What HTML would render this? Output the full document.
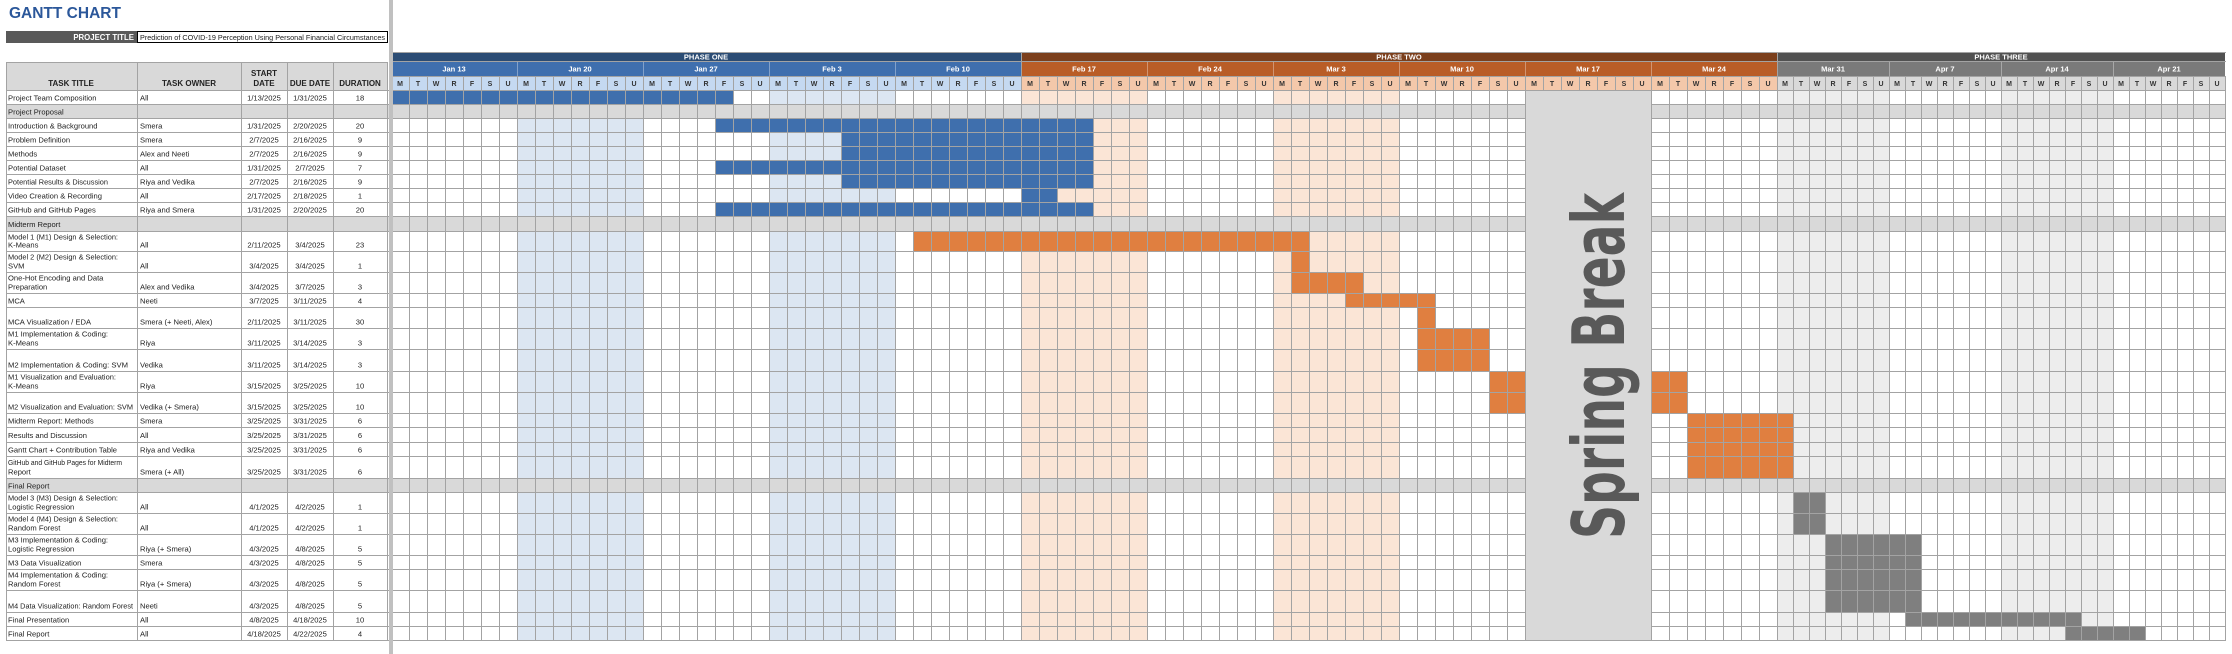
<!DOCTYPE html>
<html><head><meta charset="utf-8"><style>
html,body{margin:0;padding:0;background:#fff;width:2232px;height:654px;overflow:hidden}
svg{display:block}
text{font-family:"Liberation Sans",sans-serif}
.t{font-size:7.6px;fill:#222}
.c{font-size:7.6px;fill:#222;text-anchor:middle}
.h{font-size:8px;font-weight:bold;fill:#222;text-anchor:middle}
.w{font-size:7.5px;font-weight:bold;fill:#fff;text-anchor:middle}
.d{font-size:7px;font-weight:bold;fill:#333;text-anchor:middle}
</style></head><body>
<svg width="2232" height="654" viewBox="0 0 2232 654" xmlns="http://www.w3.org/2000/svg">
<defs>
<pattern id="g18" x="391" y="0" width="18" height="654" patternUnits="userSpaceOnUse"><rect x="0" y="0" width="1" height="654" fill="#a3a3a3"/></pattern>
<pattern id="g16" x="1777" y="0" width="16" height="654" patternUnits="userSpaceOnUse"><rect x="0" y="0" width="1" height="654" fill="#a3a3a3"/></pattern>
</defs>

<!-- title -->
<text x="9" y="18" style="font-size:15.5px;font-weight:bold;fill:#2b579a">GANTT CHART</text>
<rect x="6" y="31" width="131" height="12" fill="#595959"/>
<text x="134" y="40" style="font-size:7.8px;font-weight:bold;fill:#fff;text-anchor:end">PROJECT TITLE</text>
<rect x="137.5" y="31.5" width="250" height="11" fill="#fff" stroke="#000" stroke-width="1"/>
<text x="140" y="40" class="t" textLength="245" lengthAdjust="spacingAndGlyphs">Prediction of COVID-19 Perception Using Personal Financial Circumstances</text>

<!-- left table header -->
<rect x="6" y="62" width="382" height="28" fill="#d9d9d9"/>
<!-- section rows -->
<rect x="6" y="104" width="2219" height="14" fill="#d9d9d9"/>
<rect x="6" y="216" width="2219" height="15" fill="#d9d9d9"/>
<rect x="6" y="478" width="2219" height="14" fill="#d9d9d9"/>

<!-- chart week shading -->
<g>
<rect x="517" y="90" width="126" height="14" fill="#dce6f2"/><rect x="517" y="118" width="126" height="98" fill="#dce6f2"/><rect x="517" y="231" width="126" height="247" fill="#dce6f2"/><rect x="517" y="492" width="126" height="148" fill="#dce6f2"/>
<rect x="769" y="90" width="126" height="14" fill="#dce6f2"/><rect x="769" y="118" width="126" height="98" fill="#dce6f2"/><rect x="769" y="231" width="126" height="247" fill="#dce6f2"/><rect x="769" y="492" width="126" height="148" fill="#dce6f2"/>
<rect x="1021" y="90" width="126" height="14" fill="#fbe5d6"/><rect x="1021" y="118" width="126" height="98" fill="#fbe5d6"/><rect x="1021" y="231" width="126" height="247" fill="#fbe5d6"/><rect x="1021" y="492" width="126" height="148" fill="#fbe5d6"/>
<rect x="1273" y="90" width="126" height="14" fill="#fbe5d6"/><rect x="1273" y="118" width="126" height="98" fill="#fbe5d6"/><rect x="1273" y="231" width="126" height="247" fill="#fbe5d6"/><rect x="1273" y="492" width="126" height="148" fill="#fbe5d6"/>
<rect x="1777" y="90" width="112" height="14" fill="#ededed"/><rect x="1777" y="118" width="112" height="98" fill="#ededed"/><rect x="1777" y="231" width="112" height="247" fill="#ededed"/><rect x="1777" y="492" width="112" height="148" fill="#ededed"/>
<rect x="2001" y="90" width="112" height="14" fill="#ededed"/><rect x="2001" y="118" width="112" height="98" fill="#ededed"/><rect x="2001" y="231" width="112" height="247" fill="#ededed"/><rect x="2001" y="492" width="112" height="148" fill="#ededed"/>
</g>

<!-- bars blue -->
<g fill="#3f6fad">
<rect x="391" y="90" width="342" height="14"/>
<rect x="715" y="118" width="378" height="14"/>
<rect x="841" y="132" width="252" height="28"/>
<rect x="715" y="160" width="378" height="14"/>
<rect x="841" y="174" width="252" height="14"/>
<rect x="1021" y="188" width="36" height="14"/>
<rect x="715" y="202" width="378" height="14"/>
</g>
<!-- bars orange -->
<g fill="#e07f40">
<rect x="913" y="231" width="396" height="20"/>
<rect x="1291" y="251" width="18" height="21"/>
<rect x="1291" y="272" width="72" height="21"/>
<rect x="1345" y="293" width="90" height="14"/>
<rect x="1417" y="307" width="18" height="21"/>
<rect x="1417" y="328" width="72" height="43"/>
<rect x="1489" y="371" width="36" height="42"/>
<rect x="1651" y="371" width="36" height="42"/>
<rect x="1687" y="413" width="106" height="65"/>
</g>
<!-- bars gray -->
<g fill="#7f7f7f">
<rect x="1793" y="492" width="32" height="42"/>
<rect x="1825" y="534" width="96" height="78"/>
<rect x="1905" y="612" width="176" height="14"/>
<rect x="2065" y="626" width="80" height="14"/>
</g>

<!-- chart header -->
<rect x="391" y="52" width="630" height="9" fill="#2b4c74"/>
<rect x="1021" y="52" width="756" height="9" fill="#7b3f1c"/>
<rect x="1777" y="52" width="448" height="9" fill="#515151"/>
<rect x="391" y="61" width="630" height="15" fill="#3f6fae"/>
<rect x="1021" y="61" width="756" height="15" fill="#b95d27"/>
<rect x="1777" y="61" width="448" height="15" fill="#7a7a7a"/>
<rect x="391" y="76" width="630" height="14" fill="#c5d9f1"/>
<rect x="1021" y="76" width="756" height="14" fill="#f4c8aa"/>
<rect x="1777" y="76" width="448" height="14" fill="#d9d9d9"/>
<!-- week separators -->
<g fill="#ffffff" fill-opacity="0.35">
<rect x="517" y="61" width="1" height="15"/><rect x="643" y="61" width="1" height="15"/><rect x="769" y="61" width="1" height="15"/><rect x="895" y="61" width="1" height="15"/>
<rect x="1147" y="61" width="1" height="15"/><rect x="1273" y="61" width="1" height="15"/><rect x="1399" y="61" width="1" height="15"/><rect x="1525" y="61" width="1" height="15"/><rect x="1651" y="61" width="1" height="15"/>
<rect x="1889" y="61" width="1" height="15"/><rect x="2001" y="61" width="1" height="15"/><rect x="2113" y="61" width="1" height="15"/>
</g>

<!-- vertical gridlines -->
<rect x="391" y="76" width="1386" height="564" fill="url(#g18)"/>
<rect x="1777" y="76" width="449" height="564" fill="url(#g16)"/>
<rect x="1021" y="52" width="1" height="24" fill="#a3a3a3"/>
<rect x="1777" y="52" width="1" height="24" fill="#a3a3a3"/>

<!-- horizontal gridlines -->
<path fill="none" stroke="#a3a3a3" stroke-width="1" d="M391 52.5H2226M391 61.5H2226M391 76.5H2226M6 62.5H388M6 90.5H2226M6 104.5H2226M6 118.5H2226M6 132.5H2226M6 146.5H2226M6 160.5H2226M6 174.5H2226M6 188.5H2226M6 202.5H2226M6 216.5H2226M6 231.5H2226M6 251.5H2226M6 272.5H2226M6 293.5H2226M6 307.5H2226M6 328.5H2226M6 349.5H2226M6 371.5H2226M6 392.5H2226M6 413.5H2226M6 427.5H2226M6 442.5H2226M6 456.5H2226M6 478.5H2226M6 492.5H2226M6 513.5H2226M6 534.5H2226M6 555.5H2226M6 569.5H2226M6 590.5H2226M6 612.5H2226M6 626.5H2226M6 640.5H2226"/>
<!-- left table verticals -->
<path fill="none" stroke="#a3a3a3" stroke-width="1" d="M6.5 62V641M137.5 62V641M241.5 62V641M287.5 62V641M333.5 62V641M387.5 62V641"/>

<!-- spring break -->
<rect x="1525.5" y="90.5" width="126" height="550" fill="#d9d9d9" stroke="#a3a3a3" stroke-width="1"/>
<text transform="translate(1624,366) rotate(-90)" text-anchor="middle" textLength="346" lengthAdjust="spacingAndGlyphs" style="font-family:'DejaVu Sans','Liberation Sans',sans-serif;font-size:72px;font-weight:bold;fill:#595959">Spring Break</text>

<!-- separator -->
<rect x="389" y="0" width="4" height="654" fill="#c0c0c0"/>

<!-- header labels -->
<text x="706" y="59.5" class="w">PHASE ONE</text>
<text x="1399" y="59.5" class="w">PHASE TWO</text>
<text x="2001" y="59.5" class="w">PHASE THREE</text>
<text y="71.5" class="w"><tspan x="454">Jan 13</tspan><tspan x="580">Jan 20</tspan><tspan x="706">Jan 27</tspan><tspan x="832">Feb 3</tspan><tspan x="958">Feb 10</tspan><tspan x="1084">Feb 17</tspan><tspan x="1210">Feb 24</tspan><tspan x="1336">Mar 3</tspan><tspan x="1462">Mar 10</tspan><tspan x="1588">Mar 17</tspan><tspan x="1714">Mar 24</tspan><tspan x="1833">Mar 31</tspan><tspan x="1945">Apr 7</tspan><tspan x="2057">Apr 14</tspan><tspan x="2169">Apr 21</tspan></text>
<g class="d">
<text y="86" x="400 418 436 454 472 490 508" class="d">MTWRFSU</text>
<text y="86" x="526 544 562 580 598 616 634" class="d">MTWRFSU</text>
<text y="86" x="652 670 688 706 724 742 760" class="d">MTWRFSU</text>
<text y="86" x="778 796 814 832 850 868 886" class="d">MTWRFSU</text>
<text y="86" x="904 922 940 958 976 994 1012" class="d">MTWRFSU</text>
<text y="86" x="1030 1048 1066 1084 1102 1120 1138" class="d">MTWRFSU</text>
<text y="86" x="1156 1174 1192 1210 1228 1246 1264" class="d">MTWRFSU</text>
<text y="86" x="1282 1300 1318 1336 1354 1372 1390" class="d">MTWRFSU</text>
<text y="86" x="1408 1426 1444 1462 1480 1498 1516" class="d">MTWRFSU</text>
<text y="86" x="1534 1552 1570 1588 1606 1624 1642" class="d">MTWRFSU</text>
<text y="86" x="1660 1678 1696 1714 1732 1750 1768" class="d">MTWRFSU</text>
<text y="86" x="1785 1801 1817 1833 1849 1865 1881" class="d">MTWRFSU</text>
<text y="86" x="1897 1913 1929 1945 1961 1977 1993" class="d">MTWRFSU</text>
<text y="86" x="2009 2025 2041 2057 2073 2089 2105" class="d">MTWRFSU</text>
<text y="86" x="2121 2137 2153 2169 2185 2201 2217" class="d">MTWRFSU</text>
</g>

<!-- left table header text -->
<text x="71" y="86" class="h">TASK TITLE</text>
<text x="189" y="86" class="h">TASK OWNER</text>
<text x="264" y="76" class="h">START</text>
<text x="264" y="86" class="h">DATE</text>
<text x="310" y="86" class="h">DUE DATE</text>
<text x="360" y="86" class="h">DURATION</text>

<!-- rows -->
<g>
<text x="8" y="100.5" class="t">Project Team Composition</text><text x="140" y="100.5" class="t">All</text><text x="264" y="100.5" class="c">1/13/2025</text><text x="310" y="100.5" class="c">1/31/2025</text><text x="360" y="100.5" class="c">18</text>
<text x="8" y="114.5" class="t">Project Proposal</text>
<text x="8" y="128.5" class="t">Introduction &amp; Background</text><text x="140" y="128.5" class="t">Smera</text><text x="264" y="128.5" class="c">1/31/2025</text><text x="310" y="128.5" class="c">2/20/2025</text><text x="360" y="128.5" class="c">20</text>
<text x="8" y="142.5" class="t">Problem Definition</text><text x="140" y="142.5" class="t">Smera</text><text x="264" y="142.5" class="c">2/7/2025</text><text x="310" y="142.5" class="c">2/16/2025</text><text x="360" y="142.5" class="c">9</text>
<text x="8" y="156.5" class="t">Methods</text><text x="140" y="156.5" class="t">Alex and Neeti</text><text x="264" y="156.5" class="c">2/7/2025</text><text x="310" y="156.5" class="c">2/16/2025</text><text x="360" y="156.5" class="c">9</text>
<text x="8" y="170.5" class="t">Potential Dataset</text><text x="140" y="170.5" class="t">All</text><text x="264" y="170.5" class="c">1/31/2025</text><text x="310" y="170.5" class="c">2/7/2025</text><text x="360" y="170.5" class="c">7</text>
<text x="8" y="184.5" class="t" textLength="100" lengthAdjust="spacingAndGlyphs">Potential Results &amp; Discussion</text><text x="140" y="184.5" class="t">Riya and Vedika</text><text x="264" y="184.5" class="c">2/7/2025</text><text x="310" y="184.5" class="c">2/16/2025</text><text x="360" y="184.5" class="c">9</text>
<text x="8" y="198.5" class="t">Video Creation &amp; Recording</text><text x="140" y="198.5" class="t">All</text><text x="264" y="198.5" class="c">2/17/2025</text><text x="310" y="198.5" class="c">2/18/2025</text><text x="360" y="198.5" class="c">1</text>
<text x="8" y="212.5" class="t">GitHub and GitHub Pages</text><text x="140" y="212.5" class="t">Riya and Smera</text><text x="264" y="212.5" class="c">1/31/2025</text><text x="310" y="212.5" class="c">2/20/2025</text><text x="360" y="212.5" class="c">20</text>
<text x="8" y="227" class="t">Midterm Report</text>

<text x="8" y="239.5" class="t" textLength="110" lengthAdjust="spacingAndGlyphs">Model 1 (M1) Design &amp; Selection:</text><text x="8" y="247.5" class="t">K-Means</text><text x="140" y="247.5" class="t">All</text><text x="264" y="247.5" class="c">2/11/2025</text><text x="310" y="247.5" class="c">3/4/2025</text><text x="360" y="247.5" class="c">23</text>
<text x="8" y="259.5" class="t" textLength="110" lengthAdjust="spacingAndGlyphs">Model 2 (M2) Design &amp; Selection:</text><text x="8" y="268.5" class="t">SVM</text><text x="140" y="268.5" class="t">All</text><text x="264" y="268.5" class="c">3/4/2025</text><text x="310" y="268.5" class="c">3/4/2025</text><text x="360" y="268.5" class="c">1</text>
<text x="8" y="280.5" class="t">One-Hot Encoding and Data</text><text x="8" y="289.5" class="t">Preparation</text><text x="140" y="289.5" class="t">Alex and Vedika</text><text x="264" y="289.5" class="c">3/4/2025</text><text x="310" y="289.5" class="c">3/7/2025</text><text x="360" y="289.5" class="c">3</text>
<text x="8" y="303.5" class="t">MCA</text><text x="140" y="303.5" class="t">Neeti</text><text x="264" y="303.5" class="c">3/7/2025</text><text x="310" y="303.5" class="c">3/11/2025</text><text x="360" y="303.5" class="c">4</text>
<text x="8" y="324.5" class="t">MCA Visualization / EDA</text><text x="140" y="324.5" class="t">Smera (+ Neeti, Alex)</text><text x="264" y="324.5" class="c">2/11/2025</text><text x="310" y="324.5" class="c">3/11/2025</text><text x="360" y="324.5" class="c">30</text>
<text x="8" y="336.5" class="t">M1 Implementation &amp; Coding:</text><text x="8" y="345.5" class="t">K-Means</text><text x="140" y="345.5" class="t">Riya</text><text x="264" y="345.5" class="c">3/11/2025</text><text x="310" y="345.5" class="c">3/14/2025</text><text x="360" y="345.5" class="c">3</text>
<text x="8" y="367.5" class="t" textLength="120" lengthAdjust="spacingAndGlyphs">M2 Implementation &amp; Coding: SVM</text><text x="140" y="367.5" class="t">Vedika</text><text x="264" y="367.5" class="c">3/11/2025</text><text x="310" y="367.5" class="c">3/14/2025</text><text x="360" y="367.5" class="c">3</text>
<text x="8" y="379.5" class="t" textLength="108" lengthAdjust="spacingAndGlyphs">M1 Visualization and Evaluation:</text><text x="8" y="388.5" class="t">K-Means</text><text x="140" y="388.5" class="t">Riya</text><text x="264" y="388.5" class="c">3/15/2025</text><text x="310" y="388.5" class="c">3/25/2025</text><text x="360" y="388.5" class="c">10</text>
<text x="8" y="409.5" class="t" textLength="125" lengthAdjust="spacingAndGlyphs">M2 Visualization and Evaluation: SVM</text><text x="140" y="409.5" class="t">Vedika (+ Smera)</text><text x="264" y="409.5" class="c">3/15/2025</text><text x="310" y="409.5" class="c">3/25/2025</text><text x="360" y="409.5" class="c">10</text>
<text x="8" y="423.5" class="t">Midterm Report: Methods</text><text x="140" y="423.5" class="t">Smera</text><text x="264" y="423.5" class="c">3/25/2025</text><text x="310" y="423.5" class="c">3/31/2025</text><text x="360" y="423.5" class="c">6</text>
<text x="8" y="438" class="t">Results and Discussion</text><text x="140" y="438" class="t">All</text><text x="264" y="438" class="c">3/25/2025</text><text x="310" y="438" class="c">3/31/2025</text><text x="360" y="438" class="c">6</text>
<text x="8" y="452.5" class="t" textLength="109" lengthAdjust="spacingAndGlyphs">Gantt Chart + Contribution Table</text><text x="140" y="452.5" class="t">Riya and Vedika</text><text x="264" y="452.5" class="c">3/25/2025</text><text x="310" y="452.5" class="c">3/31/2025</text><text x="360" y="452.5" class="c">6</text>
<text x="8" y="465" class="t" textLength="114" lengthAdjust="spacingAndGlyphs">GitHub and GitHub Pages for Midterm</text><text x="8" y="474.5" class="t">Report</text><text x="140" y="474.5" class="t">Smera (+ All)</text><text x="264" y="474.5" class="c">3/25/2025</text><text x="310" y="474.5" class="c">3/31/2025</text><text x="360" y="474.5" class="c">6</text>
<text x="8" y="488.5" class="t">Final Report</text>

<text x="8" y="500.5" class="t" textLength="110" lengthAdjust="spacingAndGlyphs">Model 3 (M3) Design &amp; Selection:</text><text x="8" y="509.5" class="t">Logistic Regression</text><text x="140" y="509.5" class="t">All</text><text x="264" y="509.5" class="c">4/1/2025</text><text x="310" y="509.5" class="c">4/2/2025</text><text x="360" y="509.5" class="c">1</text>
<text x="8" y="521.5" class="t" textLength="110" lengthAdjust="spacingAndGlyphs">Model 4 (M4) Design &amp; Selection:</text><text x="8" y="530.5" class="t">Random Forest</text><text x="140" y="530.5" class="t">All</text><text x="264" y="530.5" class="c">4/1/2025</text><text x="310" y="530.5" class="c">4/2/2025</text><text x="360" y="530.5" class="c">1</text>
<text x="8" y="542.5" class="t">M3 Implementation &amp; Coding:</text><text x="8" y="551.5" class="t">Logistic Regression</text><text x="140" y="551.5" class="t">Riya (+ Smera)</text><text x="264" y="551.5" class="c">4/3/2025</text><text x="310" y="551.5" class="c">4/8/2025</text><text x="360" y="551.5" class="c">5</text>
<text x="8" y="565.5" class="t">M3 Data Visualization</text><text x="140" y="565.5" class="t">Smera</text><text x="264" y="565.5" class="c">4/3/2025</text><text x="310" y="565.5" class="c">4/8/2025</text><text x="360" y="565.5" class="c">5</text>
<text x="8" y="577.5" class="t">M4 Implementation &amp; Coding:</text><text x="8" y="586.5" class="t">Random Forest</text><text x="140" y="586.5" class="t">Riya (+ Smera)</text><text x="264" y="586.5" class="c">4/3/2025</text><text x="310" y="586.5" class="c">4/8/2025</text><text x="360" y="586.5" class="c">5</text>
<text x="8" y="608.5" class="t" textLength="125" lengthAdjust="spacingAndGlyphs">M4 Data Visualization: Random Forest</text><text x="140" y="608.5" class="t">Neeti</text><text x="264" y="608.5" class="c">4/3/2025</text><text x="310" y="608.5" class="c">4/8/2025</text><text x="360" y="608.5" class="c">5</text>
<text x="8" y="622.5" class="t">Final Presentation</text><text x="140" y="622.5" class="t">All</text><text x="264" y="622.5" class="c">4/8/2025</text><text x="310" y="622.5" class="c">4/18/2025</text><text x="360" y="622.5" class="c">10</text>
<text x="8" y="636.5" class="t">Final Report</text><text x="140" y="636.5" class="t">All</text><text x="264" y="636.5" class="c">4/18/2025</text><text x="310" y="636.5" class="c">4/22/2025</text><text x="360" y="636.5" class="c">4</text>
</g>
</svg>
</body></html>
